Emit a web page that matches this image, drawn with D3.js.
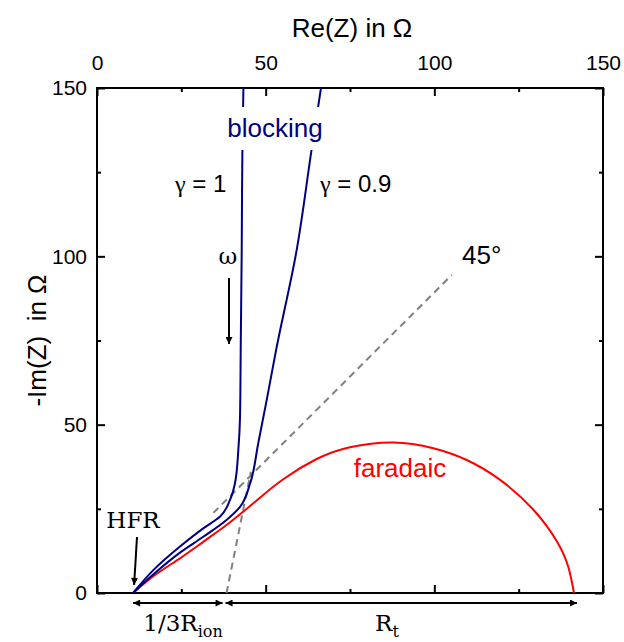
<!DOCTYPE html>
<html>
<head>
<meta charset="utf-8">
<script src="https://cdn.jsdelivr.net/npm/d3@7"></script>
<style>
  body { margin: 0; background: #fff; }
  .axis text { font-family: Arial, "Liberation Sans", sans-serif; }
</style>
</head>
<body>
<div id="chart"></div>
<script>

// axis ticks
var major_ticks = [0, 50, 100, 150];
var minor_ticks = [25, 75, 125];

// curves, [Re(Z), -Im(Z)] in ohm
var faradaic_data = [[10.7,0],[17,5.2],[24.6,10.3],[31.5,15.2],[38.4,20.2],[43.4,24.2],[48.3,28.3],
  [55.2,33.8],[65.1,39.8],[75.0,43.3],[87.8,44.7],[99.7,43.0],[109.6,39.5],[119.5,33.6],
  [129.3,24.8],[136.3,15.4],[139.7,7.8],[141.4,0]];
var gamma1_data = [[10.7,0],[16.7,6.8],[24.6,13.8],[31.5,19.2],[36.5,22.7],[39.4,27.6],[40.9,32.6],
  [41.9,42.5],[42.4,52.4],[42.6,72],[42.9,102],[43.1,131.6],[43.4,150]];
var gamma09_data = [[10.7,0],[17,5.8],[24.6,12.0],[31.5,16.7],[38.4,21.7],[42.4,25.6],[45.4,32.6],
  [47.8,44.5],[50.3,57.3],[53.1,72.2],[59.2,101.9],[63.6,131.6],[66.4,150]];

// dashed guide lines
var line45_data = [[34.5,23.8],[105.2,94.5]];
var steep_data = [[38.4,0],[45.6,36]];

var hfr = 10.7, r_end = 141.4, r_split = 38.4;

var margin = {top: 88, right: 21, bottom: 49, left: 97},
    width = 624 - margin.left - margin.right,
    height = 642 - margin.top - margin.bottom;

var x = d3.scaleLinear().domain([0, 150]).range([0, width]);
var y = d3.scaleLinear().domain([0, 150]).range([height, 0]);

var svg = d3.select('#chart').append('svg')
  .attr('width', 624)
  .attr('height', 642)
  .append('g')
  .attr('transform', 'translate(' + margin.left + ',' + margin.top + ')');

var defs = svg.append('defs');
defs.append('clipPath').attr('id', 'clip')
  .append('rect').attr('width', width).attr('height', height);
defs.append('marker')
  .attr('id', 'head')
  .attr('viewBox', '0 0 10 10')
  .attr('refX', 10).attr('refY', 5)
  .attr('markerWidth', 15).attr('markerHeight', 7)
  .attr('markerUnits', 'userSpaceOnUse')
  .attr('orient', 'auto-start-reverse')
  .append('path').attr('d', 'M0,0L10,5L0,10Z').attr('fill', '#000');

var axis_font = '21px Arial';

// axes, ticks pointing inward
function styleAxis(g){
  g.select('.domain').remove();
  g.selectAll('line').attr('stroke', '#000').attr('stroke-width', 2);
  g.selectAll('text').style('font', axis_font).attr('fill', '#000');
}

svg.append('g').attr('class', 'axis')
  .call(d3.axisTop(x).tickValues(major_ticks).tickSize(-8).tickPadding(18))
  .call(styleAxis);
svg.append('g').attr('class', 'axis')
  .call(d3.axisTop(x).tickValues(minor_ticks).tickSize(-4).tickFormat(''))
  .call(styleAxis);
svg.append('g').attr('class', 'axis')
  .attr('transform', 'translate(0,' + height + ')')
  .call(d3.axisBottom(x).tickValues(major_ticks).tickSize(-8).tickFormat(''))
  .call(styleAxis);
svg.append('g').attr('class', 'axis')
  .attr('transform', 'translate(0,' + height + ')')
  .call(d3.axisBottom(x).tickValues(minor_ticks).tickSize(-4).tickFormat(''))
  .call(styleAxis);
svg.append('g').attr('class', 'axis')
  .call(d3.axisLeft(y).tickValues(major_ticks).tickSize(-8).tickPadding(10))
  .call(styleAxis);
svg.append('g').attr('class', 'axis')
  .call(d3.axisLeft(y).tickValues(minor_ticks).tickSize(-4).tickFormat(''))
  .call(styleAxis);
svg.append('g').attr('class', 'axis')
  .attr('transform', 'translate(' + width + ',0)')
  .call(d3.axisRight(y).tickValues(major_ticks).tickSize(-8).tickFormat(''))
  .call(styleAxis);
svg.append('g').attr('class', 'axis')
  .attr('transform', 'translate(' + width + ',0)')
  .call(d3.axisRight(y).tickValues(minor_ticks).tickSize(-4).tickFormat(''))
  .call(styleAxis);

// frame
svg.append('rect')
  .attr('width', width).attr('height', height)
  .attr('fill', 'none').attr('stroke', '#000').attr('stroke-width', 2);

// axis titles
svg.append('text')
  .attr('x', 255).attr('y', -51)
  .attr('text-anchor', 'middle')
  .style('font', '26px Arial')
  .text('Re(Z) in Ω');
svg.append('text')
  .attr('transform', 'translate(-51,' + (height / 2) + ') rotate(-90)')
  .attr('text-anchor', 'middle')
  .style('font', '26px Arial')
  .style('white-space', 'pre')
  .text('-Im(Z)  in Ω');

var line_x = function(d){ return x(d[0]); };
var line_y = function(d){ return y(d[1]); };
var red_line = d3.line().x(line_x).y(line_y).curve(d3.curveNatural);
var blue_line = d3.line().x(line_x).y(line_y).curve(d3.curveMonotoneY);
var straight = d3.line().x(line_x).y(line_y);

var plot = svg.append('g').attr('clip-path', 'url(#clip)');

// dashed guides
[line45_data, steep_data].forEach(function(d){
  plot.append('path')
    .attr('d', straight(d))
    .attr('fill', 'none')
    .attr('stroke', '#808080')
    .attr('stroke-width', 2)
    .attr('stroke-dasharray', '7,5');
});

plot.append('path').attr('d', red_line(faradaic_data))
  .attr('fill', 'none').attr('stroke', '#ff0000').attr('stroke-width', 2);
plot.append('path').attr('d', blue_line(gamma1_data))
  .attr('fill', 'none').attr('stroke', '#000080').attr('stroke-width', 2);
plot.append('path').attr('d', blue_line(gamma09_data))
  .attr('fill', 'none').attr('stroke', '#000080').attr('stroke-width', 2);

// label "blocking" breaks the blue lines
svg.append('rect')
  .attr('x', 126).attr('y', 19).attr('width', 106).attr('height', 43)
  .attr('fill', '#fff');
svg.append('text')
  .attr('x', 178).attr('y', 49)
  .attr('text-anchor', 'middle')
  .attr('fill', '#000080')
  .style('font', '26px Arial')
  .text('blocking');

var sans = '24px Arial';
var greek = '24px "Liberation Serif", serif';
var g1 = svg.append('text').attr('x', 78).attr('y', 104)
  .style('font', sans).style('white-space', 'pre');
g1.append('tspan').style('font', greek).text('γ');
g1.append('tspan').text(' = 1');
var g09 = svg.append('text').attr('x', 223).attr('y', 104)
  .style('font', sans).style('white-space', 'pre');
g09.append('tspan').style('font', greek).text('γ');
g09.append('tspan').text(' = 0.9');
svg.append('text').attr('x', 365).attr('y', 176)
  .style('font', '26px Arial').text('45°');
svg.append('text').attr('x', 303).attr('y', 389).attr('text-anchor', 'middle')
  .attr('fill', '#ff0000').style('font', '26px Arial').text('faradaic');

// serif annotations
var serif = '23px "DejaVu Serif", serif';
svg.append('text').attr('x', 131).attr('y', 176).attr('text-anchor', 'middle')
  .style('font', serif).text('ω');
svg.append('line')
  .attr('x1', 132).attr('y1', 190).attr('x2', 132).attr('y2', 256)
  .attr('stroke', '#000').attr('stroke-width', 2).attr('marker-end', 'url(#head)');

svg.append('text').attr('x', 36).attr('y', 440).attr('text-anchor', 'middle')
  .style('font', serif).text('HFR');
svg.append('line')
  .attr('x1', 40).attr('y1', 449).attr('x2', x(hfr) + 1).attr('y2', y(0) - 8)
  .attr('stroke', '#000').attr('stroke-width', 2).attr('marker-end', 'url(#head)');

// resistance arrows under the axis
var arrow_y = height + 10;
svg.append('line')
  .attr('x1', x(hfr)).attr('y1', arrow_y).attr('x2', x(r_split) - 4).attr('y2', arrow_y)
  .attr('stroke', '#000').attr('stroke-width', 2)
  .attr('marker-start', 'url(#head)').attr('marker-end', 'url(#head)');
svg.append('line')
  .attr('x1', x(r_split) - 1).attr('y1', arrow_y).attr('x2', x(r_end) + 3).attr('y2', arrow_y)
  .attr('stroke', '#000').attr('stroke-width', 2)
  .attr('marker-start', 'url(#head)').attr('marker-end', 'url(#head)');

var t1 = svg.append('text').attr('x', 86).attr('y', 38 + height).attr('text-anchor', 'middle')
  .style('font', serif);
t1.append('tspan').text('1/3R');
t1.append('tspan').attr('dy', 6).style('font-size', '16px').text('ion');

var t2 = svg.append('text').attr('x', 290).attr('y', 38 + height).attr('text-anchor', 'middle')
  .style('font', serif);
t2.append('tspan').text('R');
t2.append('tspan').attr('dy', 6).style('font-size', '16px').text('t');

</script>
</body>
</html>
